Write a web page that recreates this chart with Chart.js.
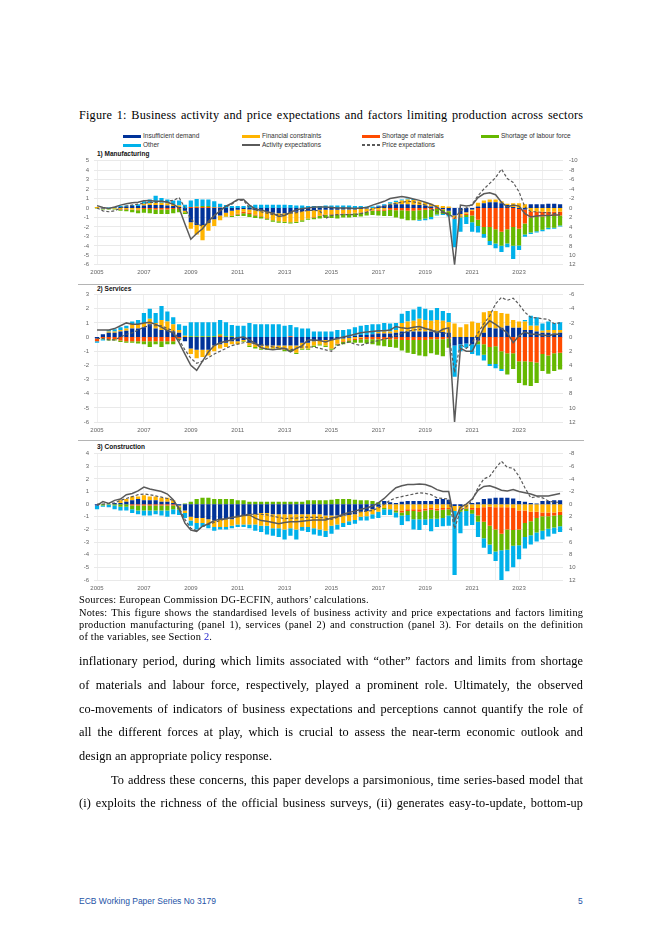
<!DOCTYPE html>
<html><head><meta charset="utf-8">
<script src="https://cdn.jsdelivr.net/npm/chart.js@4.4.1/dist/chart.umd.min.js"></script>
<style>
html,body{margin:0;padding:0;background:#fff}
body{position:relative;width:662px;height:936px;overflow:hidden}
.ln{position:absolute;white-space:nowrap;display:inline-block}
.serif{font-family:"Liberation Serif","Times New Roman",serif;color:#000}
.sans{font-family:"Liberation Sans",Arial,sans-serif}
.leg{position:absolute;font-family:"Liberation Sans",Arial,sans-serif;font-size:6.5px;line-height:8px;color:#333;white-space:nowrap}
.sw{position:absolute;width:18px}
.ptitle{position:absolute;font-family:"Liberation Sans",Arial,sans-serif;font-weight:bold;font-size:6.5px;line-height:8px;color:#111;white-space:nowrap}
.sep{position:absolute;left:78px;width:506px;height:1px;background:#b4b4b4}
canvas{position:absolute;left:70px}
</style>
</head><body>

<div id="title" class="ln serif ttl" data-y="116" data-j="1">Figure 1: Business activity and price expectations and factors limiting production across sectors</div>

<div id="legend"></div>

<div class="ptitle" style="left:97px;top:150px">1) Manufacturing</div>
<div class="sep" style="top:284px"></div>
<div class="ptitle" style="left:97px;top:285px">2) Services</div>
<div class="sep" style="top:440px"></div>
<div class="ptitle" style="left:97px;top:443px">3) Construction</div>

<canvas id="c1"></canvas>
<canvas id="c2"></canvas>
<canvas id="c3"></canvas>

<div class="ln serif notes" data-y="601" data-j="0">Sources: European Commission DG-ECFIN, authors’ calculations.</div>
<div class="ln serif notes" data-y="613.7" data-j="1">Notes: This figure shows the standardised levels of business activity and price expectations and factors limiting</div>
<div class="ln serif notes" data-y="626" data-j="1">production manufacturing (panel 1), services (panel 2) and construction (panel 3). For details on the definition</div>
<div class="ln serif notes" data-y="638.3" data-j="0">of the variables, see Section <span style="color:#2222cc">2</span>.</div>

<div class="ln serif body" data-y="662" data-j="1">inflationary period, during which limits associated with “other” factors and limits from shortage</div>
<div class="ln serif body" data-y="686" data-j="1">of materials and labour force, respectively, played a prominent role. Ultimately, the observed</div>
<div class="ln serif body" data-y="710" data-j="1">co-movements of indicators of business expectations and perceptions cannot quantify the role of</div>
<div class="ln serif body" data-y="733.5" data-j="1">all the different forces at play, which is crucial to assess the near-term economic outlook and</div>
<div class="ln serif body" data-y="757" data-j="0">design an appropriate policy response.</div>
<div class="ln serif body" data-y="781" data-j="1" data-indent="32">To address these concerns, this paper develops a parsimonious, time series-based model that</div>
<div class="ln serif body" data-y="804.5" data-j="1">(i) exploits the richness of the official business surveys, (ii) generates easy-to-update, bottom-up</div>

<div class="ln sans" style="left:79px;top:896px;font-size:8.5px;line-height:10px;color:#2453a6">ECB Working Paper Series No 3179</div>
<div class="ln sans" style="left:578px;top:896px;font-size:8.5px;line-height:10px;color:#2453a6">5</div>

<script>
// ---------- categories & tick labels ----------
const startYear = 2005, endYear = 2024;
const quarters = [];
for (let y = startYear; y <= endYear; y++) for (let q = 1; q <= 4; q++) quarters.push(y + 'Q' + q);
const yearTicks = ['2005','2007','2009','2011','2013','2015','2017','2019','2021','2023'];

const seriesNames = ['Insufficient demand','Financial constraints','Shortage of materials','Shortage of labour force','Other'];
const lineNames = ['Activity expectations','Price expectations'];
const seriesColors = ['#003299','#FFB400','#FF4B00','#65B800','#00B1EA'];
const lineColor = '#5a5a5a';

// ---------- 1) Manufacturing (bars: right axis, reversed) ----------
const mfgDemand = [0,0.1,0,-0.1,-0.2,-0.3,-0.4,-0.4,
 -0.5,-0.6,-0.6,-0.6,-0.5,-0.4,-0.2,0.6,
 3.0,3.6,3.6,3.2,2.4,1.6,1.0,0.6,
 0.4,0.2,0.3,0.5,0.6,0.8,1.0,1.1,
 1.1,1.0,0.8,0.7,0.6,0.5,0.4,0.4,
 0.4,0.4,0.3,0.3,0.3,0.2,0.1,0.0,
 -0.3,-0.5,-0.7,-0.8,-0.8,-0.8,-0.7,-0.6,
 -0.5,-0.3,-0.1,0.2,0.6,1.6,1.3,0.9,
 0.3,-0.3,-1.0,-1.2,-1.2,-1.0,-0.6,-0.2,
 0.2,0.3,-0.8,-0.8,-0.8,-0.9,-0.9,-0.8];
const mfgFinancial = [-0.2,0.1,0.1,0.1,0.2,0.2,0.3,0.3,
 -0.4,-0.4,-0.5,-0.5,-0.5,-0.4,-0.3,0.3,
 1.4,2.0,3.2,1.6,1.4,1.0,0.8,1.0,
 0.8,0.6,0.7,0.9,1.1,1.3,1.6,1.7,
 1.8,2.0,2.1,1.9,1.6,1.4,1.2,1.0,
 0.9,0.9,0.8,0.8,0.7,0.7,0.6,0.5,
 0.4,0.3,-0.2,-0.4,-0.8,-1.0,-1.0,-0.8,
 -0.7,-0.6,-0.5,-0.4,-0.3,0.4,0.3,0.3,
 0.3,-0.8,-0.6,-0.6,-0.6,-0.4,-0.3,-0.8,
 -1.0,-0.8,0.8,0.8,0.8,0.8,0.8,0.8];
const mfgMaterials = [0,0,0,0,0.1,0.1,0.1,0.2,
 0.2,0.2,0.3,0.3,0.3,0.2,0.2,0.0,
 -0.2,-0.2,-0.2,-0.2,-0.1,-0.1,0.0,0.1,
 0.2,0.3,0.3,0.2,0.1,0.1,0.0,0.0,
 0,0,0,0,0,0.1,0.1,0.1,
 0.1,0.1,0.1,0.1,0.1,0.1,0.1,0.1,
 0.2,0.3,0.4,0.5,0.5,0.6,0.6,0.5,
 0.4,0.3,0.2,0.1,0.1,0.3,0.2,0.3,
 1.0,2.5,4.0,4.0,4.5,5.0,4.5,4.0,
 4.2,3.0,1.2,1.1,1.0,0.9,0.9,0.8];
const mfgLabour = [0.1,0.1,0.2,0.2,0.3,0.4,0.5,0.6,
 0.8,0.9,1.0,1.0,1.0,0.9,0.7,0.4,
 0.0,-0.1,-0.2,-0.2,-0.1,0.0,0.1,0.2,
 0.3,0.6,0.6,0.5,0.4,0.3,0.3,0.3,
 0.3,0.3,0.3,0.3,0.3,0.4,0.5,0.6,
 0.7,0.8,0.8,0.8,0.8,0.8,0.8,0.9,
 1.0,1.1,1.3,1.5,1.8,2.0,2.0,2.0,
 1.8,1.6,1.2,1.0,0.8,0.0,0.2,0.4,
 1.4,1.3,1.5,3.0,3.0,3.0,3.0,4.0,
 3.5,2.3,3.2,3.0,2.8,2.5,2.5,2.1];
const mfgOther = [0,0,-0.1,-0.1,-0.2,-0.2,-0.2,-0.4,
 -0.5,-0.8,-1.5,-1.0,-0.8,-0.8,-1.1,-0.7,
 -1.4,-1.6,-1.4,-1.4,-1.2,-0.8,-0.6,-0.4,
 -0.4,-0.4,-0.5,-0.7,-0.7,-0.7,-0.7,-0.7,
 -0.7,-0.6,-0.5,-0.5,-0.4,-0.4,-0.4,-0.5,
 -0.5,-0.5,-0.5,-0.5,-0.4,-0.4,-0.3,-0.3,
 -0.2,-0.3,-0.3,-0.3,-0.2,-0.2,-0.2,0.2,
 0.4,0.5,0.2,0.2,0.3,6.0,3.0,1.5,
 2.0,1.4,0.8,0.8,1.0,1.3,0.8,2.8,
 1.0,0.5,0.3,0.3,0.3,0.3,0.2,0.2];
// lines: left axis
const mfgActivity = [0.25,0.05,-0.05,0.1,0.3,0.45,0.55,0.6,
 0.75,0.8,0.7,0.7,0.6,0.4,0.0,-1.7,
 -3.3,-2.7,-2.2,-1.4,-0.8,-0.3,0.2,0.5,
 0.9,0.9,0.3,-0.1,-0.2,-0.4,-0.55,-0.9,
 -0.8,-0.45,-0.2,-0.05,0.0,0.1,0.1,0.1,
 0.05,0.0,0.0,0.0,-0.05,0.0,0.05,0.3,
 0.5,0.7,1.0,1.1,1.2,1.1,0.95,0.8,
 0.6,0.4,0.1,-0.4,-0.75,-6.0,0.3,0.2,
 0.3,1.1,1.5,1.6,1.4,0.6,0.1,0.3,
 0.2,-0.6,-0.95,-0.85,-0.8,-0.8,-0.75,-0.75];
const mfgPrice = [0.0,-0.3,-0.4,-0.3,0.0,0.2,0.3,0.4,
 0.5,0.6,0.6,0.7,0.7,0.8,1.1,0.0,
 -1.2,-1.7,-1.9,-1.6,-0.8,-0.2,0.1,0.4,
 0.85,0.8,0.0,-0.2,-0.4,-0.55,-0.7,-0.7,
 -0.65,-0.55,-0.5,-0.35,-0.25,-0.25,-0.3,-1.1,
 -0.8,-0.7,-0.7,-0.7,-0.7,-0.6,-0.45,-0.05,
 0.05,0.15,0.35,0.5,0.6,0.7,0.65,0.5,
 0.3,-0.1,-0.4,-0.5,-0.6,-1.1,-0.3,0.0,
 0.4,1.3,2.0,2.6,3.2,4.1,3.1,2.7,
 1.7,0.1,-0.4,-0.4,-0.5,-0.5,-0.6,-0.5];

// ---------- 2) Services ----------
const srvDemand = [0.2,-0.4,-0.6,-0.6,-0.8,-0.9,-1.2,-1.2,
 -1.4,-1.8,-1.2,-1.0,-1.0,-0.8,-0.6,0.6,
 1.6,1.8,1.8,1.8,1.2,1.0,0.8,0.6,
 0.6,0.4,0.8,1.0,1.2,1.2,1.2,1.2,
 1.2,1.2,1.2,0.8,0.8,0.6,0.4,0.4,
 0.4,0.3,0.2,0.1,-0.2,-0.3,-0.3,-0.4,
 -0.5,-0.5,-0.5,-0.6,-0.8,-0.8,-0.8,-0.8,
 -0.8,-0.8,-0.8,-0.7,-0.6,1.2,1.0,0.9,
 1.0,0.5,-0.6,-1.3,-1.2,-1.3,-1.6,-1.3,
 -1.3,-1.0,-1.0,-0.8,-0.6,-0.6,-0.5,-0.6];
const srvFinancial = [0.0,0.0,-0.2,-0.2,-0.2,-0.3,-0.6,-0.6,
 -0.6,-0.8,-0.8,-1.4,-1.2,-1.0,-0.4,-0.2,
 0.8,1.2,1.0,0.8,0.8,0.6,0.6,0.4,
 0.4,0.2,0.4,0.4,0.4,0.4,0.4,0.4,
 0.6,0.6,1.0,0.8,0.8,0.6,0.6,0.8,
 1.2,0.6,0.4,0.3,0.2,0.1,0.0,0.0,
 -0.2,-0.3,-0.3,-0.4,-1.2,-1.4,-1.5,-1.8,
 -1.6,-1.5,-1.6,-1.6,-1.5,-1.9,-1.4,-1.8,
 -2.2,-2.0,-2.9,-2.4,-2.5,-2.1,-1.7,-1.1,
 -0.9,-1.2,-0.6,-0.8,-0.3,-0.4,-0.5,-0.4];
const srvMaterials = [0.4,0.2,0.3,0.3,0.5,0.6,0.6,0.6,
 0.6,0.6,0.6,0.6,0.6,0.6,0.2,0.0,
 0,0,0,0,0,-0.2,0,0,
 0,0,0,0,0,0,0,0,
 0,-0.1,0,0,0,0,0,0,
 0,0.1,0.1,0.1,0.2,0.2,0.3,0.3,
 0.3,0.3,0.3,0.3,0.4,0.4,0.4,0.4,
 0.4,0.3,0.3,0.3,0.2,0.0,0.0,0.0,
 0.0,0.1,1.0,1.4,1.3,2.0,2.3,2.3,
 3.4,3.4,3.5,3.6,2.4,2.6,2.3,2.2];
const srvLabour = [0.0,0.1,0.2,0.2,0.2,0.2,0.2,0.3,
 0.4,0.8,0.4,0.8,0.4,0.4,0.2,0.0,
 -0.1,-0.1,-0.1,-0.1,-0.1,-0.2,-0.1,-0.1,
 0.0,0.1,0.2,0.2,0.2,0.2,0.2,0.2,
 0.2,0.2,0.2,0.2,0.2,0.2,0.2,0.2,
 0.2,0.2,0.3,0.3,0.4,0.5,0.6,0.7,
 0.9,1.0,1.1,1.2,1.5,1.8,2.0,2.2,
 2.3,2.0,2.2,2.4,1.3,0.0,0.0,0.0,
 0.0,0.4,1.5,2.4,2.5,2.5,3.0,2.2,
 3.1,3.4,3.4,2.9,2.4,2.6,2.5,2.4];
const srvOther = [0.2,0.2,-0.2,-0.3,-0.4,-0.4,-0.4,-0.6,
 -1.4,-1.4,-1.4,-2.0,-1.4,-1.0,-0.8,-1.4,
 -2.0,-2.0,-2.0,-2.0,-2.0,-2.0,-2.0,-1.6,
 -1.6,-1.6,-2.0,-1.8,-1.8,-1.8,-1.8,-1.8,
 -1.6,-1.6,-1.4,-1.2,-1.2,-0.8,-0.8,-0.8,
 -0.8,-1.0,-1.0,-1.1,-1.2,-1.3,-1.4,-1.4,
 -1.1,-1.2,-1.1,-1.0,-1.3,-1.5,-1.6,-1.7,
 -1.6,-1.5,-1.7,-1.4,-1.3,4.4,1.0,0.6,
 1.4,1.6,0.8,0.3,0.6,0.3,0.0,0.0,
 0.0,-0.2,-1.4,-1.2,-1.0,-1.2,-1.0,-1.1];
const srvActivity = [0.5,0.5,0.5,0.6,0.8,1.0,0.9,0.9,
 1.0,1.05,0.9,0.7,0.45,0.3,-0.4,-1.2,
 -2.0,-2.35,-1.7,-1.05,-0.6,-0.4,-0.3,-0.2,
 -0.05,0.0,-0.2,-0.45,-0.75,-0.85,-0.9,-0.85,
 -0.8,-1.05,-0.8,-0.6,-0.2,-0.2,-0.25,-0.35,
 -0.2,-0.1,0.0,0.1,0.2,0.3,0.35,0.4,
 0.45,0.45,0.5,0.75,0.65,0.6,0.7,0.75,
 0.6,0.5,0.3,0.55,0.65,-6.0,-0.8,-1.0,
 -1.0,-0.2,0.7,1.15,0.9,0.6,0.3,-0.4,
 0.1,0.35,0.2,0.2,0.15,0.1,0.2,0.2];
const srvPrice = [-0.1,-0.1,-0.2,-0.2,0.0,0.2,0.3,0.5,
 0.7,0.8,0.8,0.8,0.6,0.45,-0.2,-0.9,
 -1.5,-1.85,-1.7,-1.45,-1.2,-1.0,-0.8,-0.6,
 -0.5,-0.4,-0.35,-0.5,-0.55,-0.6,-0.7,-0.75,
 -0.8,-0.9,-0.8,-0.7,-0.7,-0.7,-0.8,-0.9,
 -1.0,-0.6,-0.45,-0.35,-0.5,-0.6,-0.45,-0.35,
 -0.25,-0.15,-0.05,0.1,0.25,0.4,0.5,0.55,
 0.6,0.5,0.4,0.3,0.25,-2.5,-0.5,-0.8,
 -0.4,0.3,0.95,1.5,2.35,2.8,2.6,2.75,
 2.3,1.75,1.4,1.35,1.3,1.25,0.95,1.0];

// ---------- 3) Construction ----------
const conDemand = [0.2,0,0,-0.2,-0.2,-0.4,-0.6,-0.8,
 -0.6,-0.6,-0.6,-0.4,-0.4,-0.2,0.2,1.0,
 2.0,2.2,2.2,2.4,2.6,2.4,2.4,2.4,
 2.0,1.8,1.6,1.6,1.4,1.4,1.6,1.6,
 1.6,1.6,1.6,1.6,1.6,1.6,1.6,1.8,
 1.8,1.8,1.8,1.7,1.6,1.2,1.1,0.8,
 0.4,-0.5,-0.3,-0.2,-0.4,-0.5,-0.5,-0.5,
 -0.5,-0.5,-0.8,-0.8,-0.7,0.3,0.3,0.0,
 -0.2,-0.3,-0.8,-0.9,-1.0,-1.0,-1.0,-0.9,
 -0.5,-0.4,-0.2,-0.1,-0.5,-0.5,-0.6,-0.6];
const conFinancial = [0,0,0,0,-0.4,-0.4,-0.6,-0.4,
 -0.8,-0.6,-0.6,-0.6,-0.6,-0.4,0.2,0.4,
 0.6,0.8,0.8,0.8,1.0,1.2,1.2,1.0,
 1.2,1.4,1.6,1.6,2.0,2.0,2.2,2.2,
 2.4,2.2,2.4,2.0,2.0,2.2,2.4,2.4,
 1.6,1.4,1.2,1.0,0.9,0.8,0.8,0.8,
 0.8,0.6,0.8,0.9,1.0,0.8,0.8,0.8,
 0.7,0.6,0.7,0.6,0.6,0.8,0.5,0.6,
 0.6,0.6,0.5,0.4,0.5,0.5,0.5,0.6,
 1.0,1.0,1.2,1.2,1.3,1.3,1.3,1.2];
const conMaterials = [0,0,0,0,0,0,0.2,0.2,
 0.2,0.2,0.2,0.2,0.2,0.2,0.1,0,
 0,0,0,0,0,0,0,0,
 0,0,0,0,0,0,0,0,
 0,0,0,0,0,0,0,0,
 0,0,0,0,0,0,0,0,
 0,0,0,0.1,0.3,0.3,0.3,0.4,
 0.3,0.3,0.3,0.3,0.2,0.0,0.1,0.1,
 0.3,1.2,2.3,3.0,3.5,4.2,3.5,3.5,
 3.0,2.0,1.5,1.0,0.6,0.6,0.5,0.5];
const conLabour = [0,0.2,0.1,0.2,0.4,0.4,0.6,0.8,
 0.8,0.8,0.8,0.8,0.8,0.6,0.4,-0.1,
 -0.4,-0.8,-1.0,-1.0,-0.8,-0.8,-0.8,-0.8,
 -0.6,-0.6,-0.4,-0.4,-0.4,-0.4,-0.4,-0.4,
 -0.4,-0.4,-0.4,-0.4,-0.6,-0.6,-0.6,-0.6,
 -0.7,-0.8,-0.8,-0.8,-0.7,-0.6,-0.6,-0.5,
 -0.3,0.2,0.0,0.3,0.5,0.6,1.3,1.2,
 1.4,1.4,1.3,1.3,1.0,0.0,0.3,0.4,
 0.6,1.0,2.6,3.0,3.5,2.6,3.2,2.5,
 2.5,2.2,2.2,2.3,2.3,2.0,1.9,1.8];
const conOther = [0.6,0.2,0.4,0.6,0.6,0.6,0.6,0.6,
 0.8,0.8,0.6,0.8,1.0,0.8,0.8,0.8,
 0.8,1.0,0.6,0.6,0.6,0.4,0.4,0.4,
 0.4,0.4,0.6,1.0,1.0,1.4,1.2,1.4,
 1.6,1.2,1.6,0.6,0.8,1.0,1.0,1.0,
 1.3,0.8,0.6,0.6,0.6,0.6,0.7,0.7,
 1.0,0.9,0.9,0.8,1.5,1.0,1.6,1.7,
 0.9,2.0,1.3,1.3,1.6,10.1,3.4,2.3,
 1.8,2.4,1.5,1.5,1.5,4.7,3.4,3.4,
 2.2,1.8,1.5,1.4,1.4,1.2,1.0,0.9];
const conActivity = [-0.1,0.2,0.05,0.3,0.4,0.75,0.85,1.05,
 1.35,1.2,1.1,1.0,0.8,0.35,-0.4,-1.5,
 -2.05,-2.15,-1.75,-1.55,-1.3,-1.2,-1.15,-1.05,
 -1.0,-0.9,-0.85,-1.1,-1.3,-1.35,-1.45,-1.55,
 -1.45,-1.4,-1.4,-1.35,-1.3,-1.25,-1.25,-1.25,
 -1.1,-1.0,-0.8,-0.65,-0.55,-0.4,-0.3,-0.15,
 0.1,0.45,0.9,1.3,1.45,1.55,1.55,1.6,
 1.55,1.4,1.15,1.0,1.0,-1.3,-0.25,0.0,
 0.4,1.1,1.4,1.45,1.3,1.1,1.05,1.15,
 1.0,0.9,0.8,0.65,0.65,0.65,0.75,0.85];
const conPrice = [0.0,0.0,0.05,0.1,0.3,0.45,0.6,0.75,
 0.8,0.75,0.65,0.55,0.45,0.3,-0.3,-1.2,
 -1.9,-2.1,-1.75,-1.6,-1.45,-1.3,-1.15,-1.05,
 -0.95,-0.85,-0.8,-0.8,-0.8,-0.85,-0.95,-1.05,
 -1.15,-1.1,-1.1,-1.05,-1.05,-1.05,-1.05,-1.1,
 -1.2,-1.05,-0.9,-0.8,-0.7,-0.6,-0.55,-0.5,
 -0.3,0.0,0.3,0.5,0.6,0.7,0.8,0.9,
 0.85,0.75,0.5,0.45,0.4,-1.95,-0.5,-0.2,
 0.3,1.3,2.0,2.2,2.85,3.4,2.9,2.85,
 2.2,1.3,0.5,0.6,0.5,0.25,0.15,0.15];

// ---------- legend (HTML) ----------
(function(){
  const leg = document.getElementById('legend');
  const colX = [123, 242, 362, 481];
  const rowY = [136, 145];
  const items = seriesNames.map((n,i)=>({name:n, kind:'bar', color:seriesColors[i]}))
    .concat([{name:lineNames[0], kind:'solid'},{name:lineNames[1], kind:'dash'}]);
  items.forEach((it, k) => {
    const col = k % 4, row = Math.floor(k / 4);
    const x = colX[col], y = rowY[row];
    const sw = document.createElement('div');
    sw.className = 'sw';
    sw.style.left = x + 'px';
    if (it.kind === 'bar') { sw.style.top = (y - 1.5) + 'px'; sw.style.height = '3px'; sw.style.background = it.color; }
    else if (it.kind === 'solid') { sw.style.top = (y - 0.6) + 'px'; sw.style.height = '1.3px'; sw.style.background = lineColor; }
    else { sw.style.top = (y - 0.6) + 'px'; sw.style.height = '1.3px';
      sw.style.background = 'repeating-linear-gradient(90deg,' + lineColor + ' 0 3px, transparent 3px 5px)'; }
    leg.appendChild(sw);
    const tx = document.createElement('div');
    tx.className = 'leg';
    tx.style.left = (x + 20) + 'px';
    tx.style.top = (y - 4.3) + 'px';
    tx.textContent = it.name;
    leg.appendChild(tx);
  });
})();

// ---------- text fitting (letter-spacing + word-spacing justification) ----------
function fitGroup(sel, baseSize, lineH, width, offY, lsCap) {
  const els = Array.from(document.querySelectorAll(sel));
  let fs = baseSize;
  els.forEach(el => { el.style.fontSize = fs + 'px'; el.style.lineHeight = lineH + 'px'; el.style.letterSpacing = '0px'; });
  const avail = el => width - (parseFloat(el.dataset.indent || 0));
  let guard = 0;
  while (els.some(el => el.getBoundingClientRect().width > avail(el)) && guard < 60) {
    fs -= 0.1; guard++;
    els.forEach(el => el.style.fontSize = fs + 'px');
  }
  // common letter-spacing from the justified lines
  let lsVals = [];
  els.forEach(el => {
    if (el.dataset.j === '1') {
      const n = el.textContent.length;
      const w = el.getBoundingClientRect().width;
      lsVals.push(0.55 * (avail(el) - w) / n);
    }
  });
  const ls = Math.min(lsCap, lsVals.length ? Math.min(...lsVals) : 0);
  els.forEach(el => {
    el.style.letterSpacing = ls + 'px';
    const ind = parseFloat(el.dataset.indent || 0);
    el.style.left = (79 + ind) + 'px';
    el.style.top = (parseFloat(el.dataset.y) - offY) + 'px';
    if (el.dataset.j === '1') {
      const spaces = (el.textContent.match(/ /g) || []).length;
      const w = el.getBoundingClientRect().width - ls;
      el.style.wordSpacing = ((avail(el) - w) / spaces) + 'px';
    }
  });
}
fitGroup('.body', 12.3, 14, 504, 8.3, 0.5);
fitGroup('.notes', 10.4, 12, 504, 7.2, 0.35);
fitGroup('.ttl', 12.2, 14, 504, 8.3, 0.5);

// ---------- charts ----------
const tickFont = {family: '"Liberation Sans", Arial, sans-serif', size: 6};
const tickColor = '#666';
const gridColor = '#e9e9e9';

function makePanel(id, p) {
  const cv = document.getElementById(id);
  const canvasTop = Math.floor(p.chartTop - 8);
  const padTop = p.chartTop - canvasTop;
  const canvasH = Math.ceil(p.chartBottom + 16 - canvasTop);
  const xH = canvasTop + canvasH - p.chartBottom;
  cv.width = 520; cv.height = canvasH;
  cv.style.width = '520px'; cv.style.height = canvasH + 'px';
  cv.style.top = canvasTop + 'px';

  const barSets = p.bars.map((d, i) => ({
    type: 'bar', label: seriesNames[i], data: d, yAxisID: 'yR', stack: 'f',
    backgroundColor: seriesColors[i], borderWidth: 0,
    barPercentage: 0.72, categoryPercentage: 1.0, order: 2
  }));
  const lineSets = [
    {type: 'line', label: lineNames[0], data: p.act, yAxisID: 'yL', borderColor: lineColor,
     borderWidth: 1.5, pointRadius: 0, tension: 0, fill: false, order: 0},
    {type: 'line', label: lineNames[1], data: p.price, yAxisID: 'yL', borderColor: lineColor,
     borderWidth: 1.2, borderDash: [3, 2], pointRadius: 0, tension: 0, fill: false, order: 1}
  ];

  new Chart(cv, {
    type: 'bar',
    data: {labels: quarters, datasets: barSets.concat(lineSets)},
    options: {
      responsive: false, animation: false, devicePixelRatio: 1,
      layout: {padding: {top: padTop, bottom: 0, left: 0, right: 0}},
      plugins: {legend: {display: false}, tooltip: {enabled: false}, title: {display: false}},
      scales: {
        x: {
          stacked: true, offset: true,
          grid: {display: true, offset: false, drawTicks: false,
                 color: c => (c.index % 4 === 0 ? '#efefef' : 'rgba(0,0,0,0)')},
          border: {display: false},
          ticks: {autoSkip: false, maxRotation: 0, minRotation: 0, padding: p.xPad,
                  color: tickColor, font: tickFont,
                  callback: (v, i) => (i % 8 === 0 ? yearTicks[i / 8] : '')},
          afterFit: s => { s.height = xH; }
        },
        yL: {
          position: 'left', min: p.lMin, max: p.lMax,
          grid: {color: gridColor, drawTicks: false},
          border: {display: false},
          ticks: {stepSize: 1, maxTicksLimit: 40, autoSkip: false, padding: 5, color: tickColor, font: tickFont},
          afterFit: s => { s.width = 24.1; }
        },
        yR: {
          position: 'right', reverse: true, stacked: true, min: p.rMin, max: p.rMax,
          grid: {display: false, drawTicks: false},
          border: {display: false},
          ticks: {stepSize: 2, maxTicksLimit: 40, autoSkip: false, padding: 6, color: tickColor, font: tickFont},
          afterFit: s => { s.width = 27; }
        }
      }
    }
  });
}

makePanel('c1', {chartTop: 159.8, chartBottom: 264.8, xPad: 3.9, lMin: -6, lMax: 5, rMin: -10, rMax: 12,
  bars: [mfgDemand, mfgFinancial, mfgMaterials, mfgLabour, mfgOther], act: mfgActivity, price: mfgPrice});
makePanel('c2', {chartTop: 293.5, chartBottom: 422, xPad: 4.4, lMin: -6, lMax: 3, rMin: -6, rMax: 12,
  bars: [srvDemand, srvFinancial, srvMaterials, srvLabour, srvOther], act: srvActivity, price: srvPrice});
makePanel('c3', {chartTop: 452, chartBottom: 580, xPad: 5.1, lMin: -6, lMax: 4, rMin: -8, rMax: 12,
  bars: [conDemand, conFinancial, conMaterials, conLabour, conOther], act: conActivity, price: conPrice});
</script>
</body></html>
